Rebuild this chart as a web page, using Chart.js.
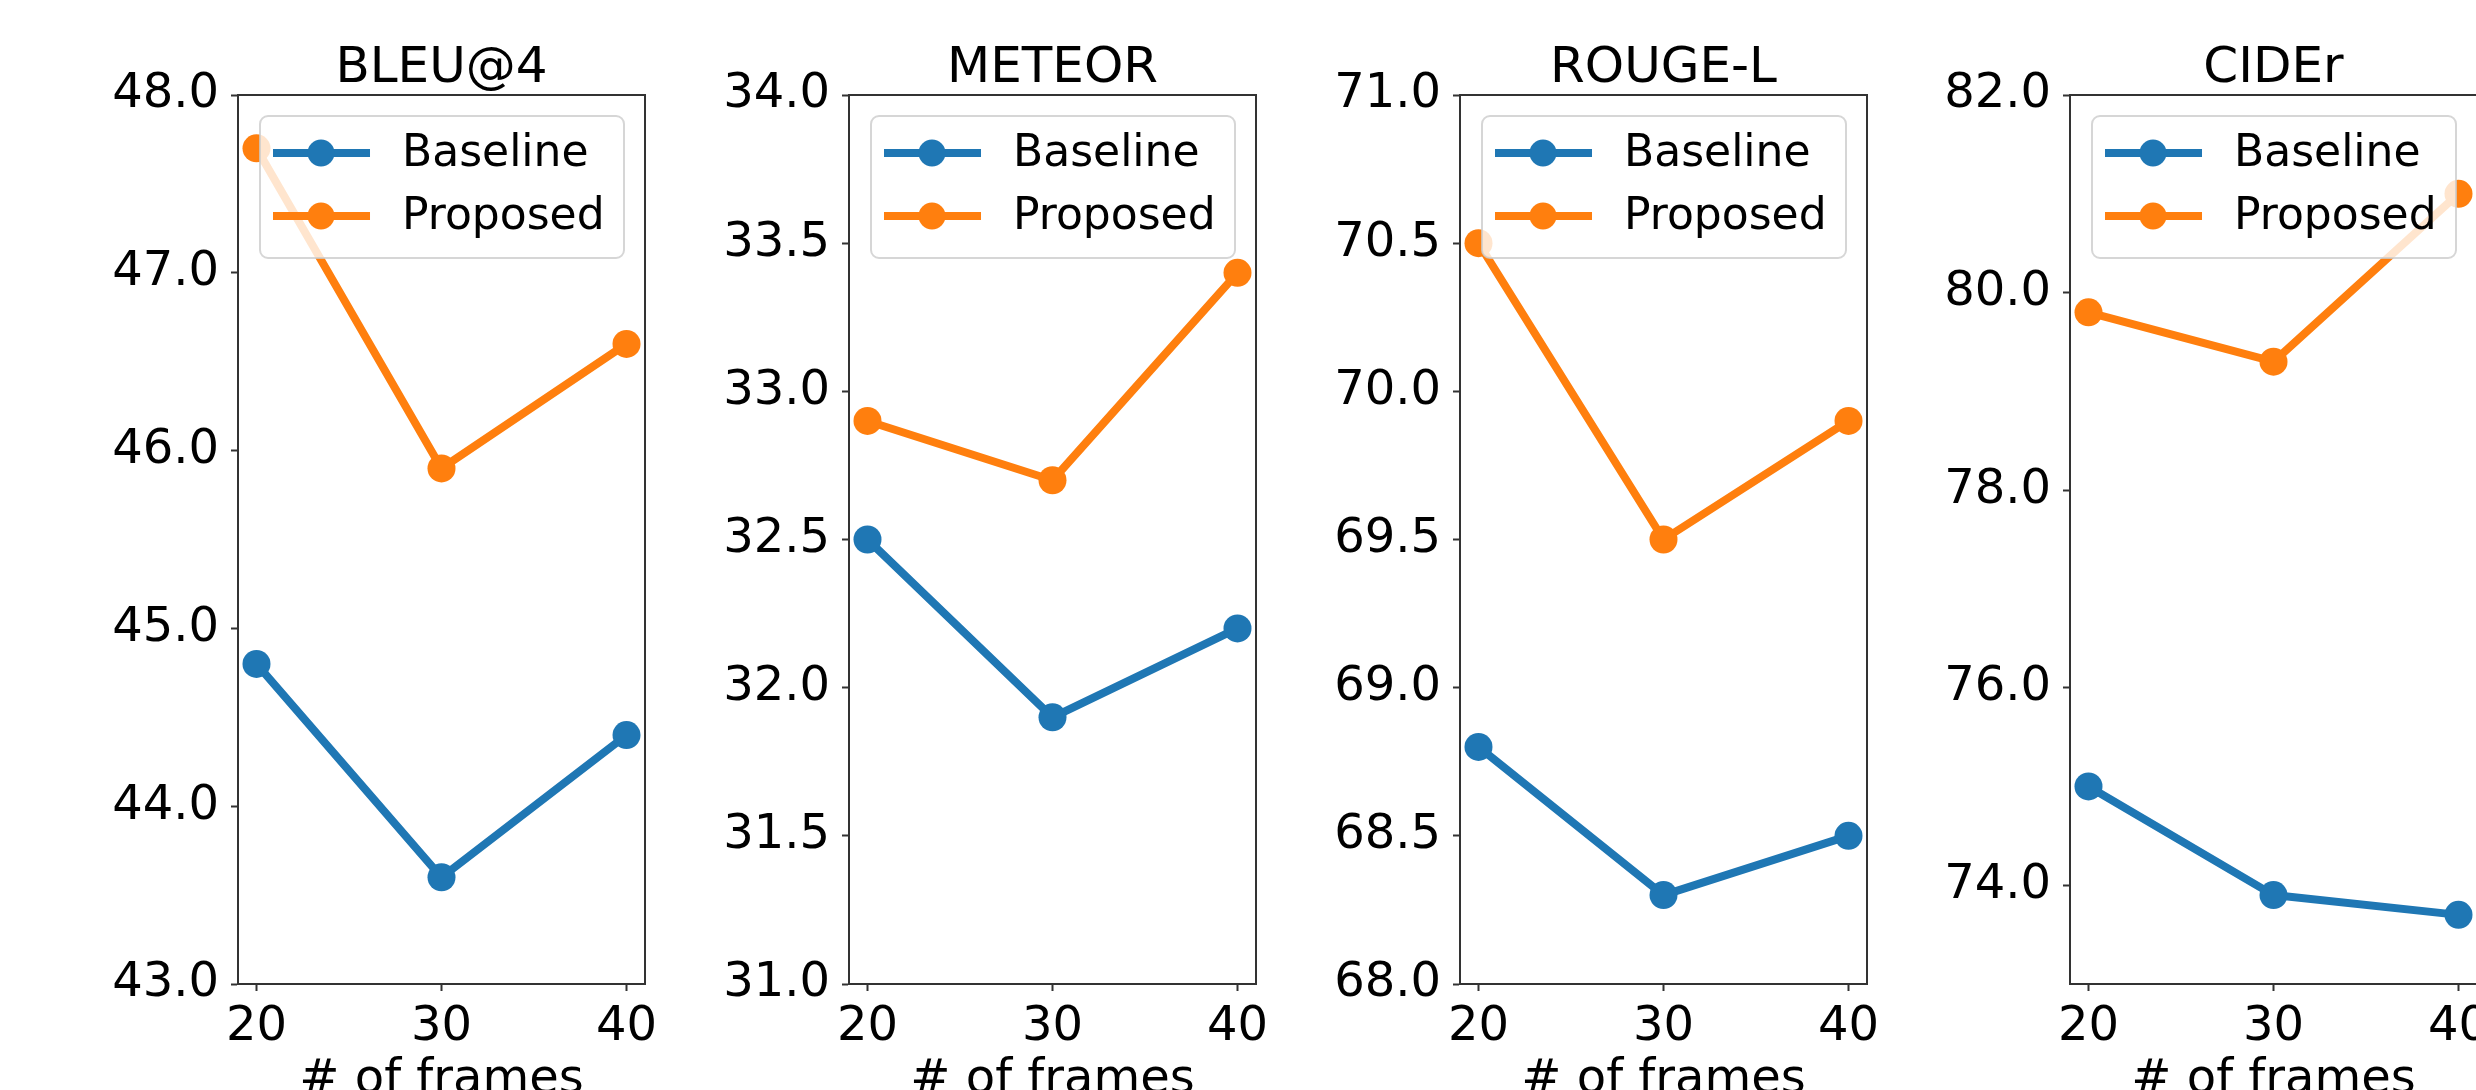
<!DOCTYPE html>
<html>
<head>
<meta charset="utf-8">
<script src="https://cdn.jsdelivr.net/npm/chart.js@4.4.1/dist/chart.umd.min.js"></script>
<style>
html, body { margin:0; padding:0; background:#ffffff; width:2476px; height:1090px; overflow:hidden; position:relative; }
.panel { position:absolute; top:0; width:666px; height:1090px; }
canvas { display:block; }
</style>
</head>
<body>
<div class="panel" style="left:0px"><canvas id="c0" width="666" height="1090"></canvas></div>
<div class="panel" style="left:611px"><canvas id="c1" width="666" height="1090"></canvas></div>
<div class="panel" style="left:1222px"><canvas id="c2" width="666" height="1090"></canvas></div>
<div class="panel" style="left:1832px"><canvas id="c3" width="666" height="1090"></canvas></div>
<script>
// ---- data ----
const frames = [20, 30, 40];
const xTicks = [20, 30, 40];
const xLabel = '# of frames';
const seriesLabels = ['Baseline', 'Proposed'];
const metricTitles = ['BLEU@4', 'METEOR', 'ROUGE-L', 'CIDEr'];

const bleuBaseline   = [44.8, 43.6, 44.4];
const bleuProposed   = [47.7, 45.9, 46.6];
const meteorBaseline = [32.5, 31.9, 32.2];
const meteorProposed = [32.9, 32.7, 33.4];
const rougeBaseline  = [68.8, 68.3, 68.5];
const rougeProposed  = [70.5, 69.5, 69.9];
const ciderBaseline  = [75.0, 73.9, 73.7];
const ciderProposed  = [79.8, 79.3, 81.0];

const bleuTicks   = [43, 44, 45, 46, 47, 48];
const meteorTicks = [31, 31.5, 32, 32.5, 33, 33.5, 34];
const rougeTicks  = [68, 68.5, 69, 69.5, 70, 70.5, 71];
const ciderTicks  = [74, 76, 78, 80, 82];

const yMin = [43, 31, 68, 73];
const yMax = [48, 34, 71, 82];
const xMin = 19;
const xMax = 41;

// ---- style ----
const BLUE = '#1f77b4';
const ORANGE = '#ff7f0e';
const AXIS = '#333333';
const FONT = 'DejaVu Sans';
Chart.defaults.font.family = FONT;

const framePlugin = {
  id: 'frame',
  beforeDatasetsDraw(chart) {
    const { ctx, chartArea: a } = chart;
    ctx.save();
    ctx.strokeStyle = AXIS;
    ctx.lineWidth = 2;
    ctx.strokeRect(a.left, a.top, a.right - a.left, a.bottom - a.top);
    ctx.restore();
  }
};

const boxLegend = {
  id: 'boxLegend',
  afterDatasetsDraw(chart) {
    const { ctx, chartArea: a } = chart;
    const w = 364, h = 142;
    const x = a.right - 21 - w, y = a.top + 21;
    ctx.save();
    ctx.beginPath();
    ctx.roundRect(x, y, w, h, 8);
    ctx.fillStyle = 'rgba(255,255,255,0.8)';
    ctx.fill();
    ctx.strokeStyle = 'rgba(204,204,204,0.8)';
    ctx.lineWidth = 2;
    ctx.stroke();
    chart.data.datasets.forEach((ds, i) => {
      const cy = y + 37 + i * 63;
      ctx.strokeStyle = ds.borderColor;
      ctx.lineWidth = 8;
      ctx.lineCap = 'butt';
      ctx.beginPath();
      ctx.moveTo(x + 13, cy);
      ctx.lineTo(x + 110, cy);
      ctx.stroke();
      ctx.fillStyle = ds.borderColor;
      ctx.beginPath();
      ctx.arc(x + 61, cy, 13.5, 0, Math.PI * 2);
      ctx.fill();
      ctx.fillStyle = '#000000';
      ctx.font = '44px "' + FONT + '"';
      ctx.textBaseline = 'middle';
      ctx.textAlign = 'left';
      ctx.fillText(ds.label, x + 142, cy + 2);
    });
    ctx.restore();
  }
};

function series(label, values, color) {
  return {
    label: label,
    data: frames.map((f, k) => ({ x: f, y: values[k] })),
    borderColor: color,
    backgroundColor: color,
    pointBackgroundColor: color,
    pointBorderColor: color,
    pointBorderWidth: 0,
    pointRadius: 14,
    borderWidth: 8,
    borderJoinStyle: 'round',
    tension: 0,
    fill: false
  };
}

function makeChart(i, base, prop, yTicks) {
  const tickGrid = { drawOnChartArea: false, drawTicks: true, tickLength: 7, tickWidth: 2, tickColor: AXIS };
  return new Chart(document.getElementById('c' + i), {
    type: 'line',
    data: { datasets: [series(seriesLabels[0], base, BLUE), series(seriesLabels[1], prop, ORANGE)] },
    options: {
      responsive: false,
      animation: false,
      devicePixelRatio: 1,
      layout: { padding: { left: 0, right: 20, top: 0, bottom: 0 } },
      plugins: {
        legend: { display: false },
        tooltip: { enabled: false },
        title: {
          display: true,
          fullSize: false,
          text: metricTitles[i],
          color: '#000000',
          font: { family: FONT, size: 50, weight: 'normal', lineHeight: 1.0 },
          padding: { top: 44, bottom: 1 }
        }
      },
      scales: {
        x: {
          type: 'linear',
          min: xMin,
          max: xMax,
          afterBuildTicks: s => { s.ticks = xTicks.map(v => ({ value: v })); },
          afterFit: s => { s.height = 106; },
          grid: tickGrid,
          border: { display: true, color: AXIS, width: 2 },
          ticks: { color: '#000000', font: { family: FONT, size: 48 }, padding: 8, maxRotation: 0, autoSkip: false },
          title: {
            display: true,
            text: xLabel,
            color: '#000000',
            font: { family: FONT, size: 48, lineHeight: 1.2 },
            padding: { top: 0, bottom: -19 }
          }
        },
        y: {
          type: 'linear',
          min: yMin[i],
          max: yMax[i],
          afterBuildTicks: s => { s.ticks = yTicks.map(v => ({ value: v })); },
          afterFit: s => { s.width = 238; },
          grid: tickGrid,
          border: { display: true, color: AXIS, width: 2 },
          ticks: { color: '#000000', font: { family: FONT, size: 48 }, padding: 12, callback: v => Number(v).toFixed(1) }
        }
      }
    },
    plugins: [framePlugin, boxLegend]
  });
}

makeChart(0, bleuBaseline, bleuProposed, bleuTicks);
makeChart(1, meteorBaseline, meteorProposed, meteorTicks);
makeChart(2, rougeBaseline, rougeProposed, rougeTicks);
makeChart(3, ciderBaseline, ciderProposed, ciderTicks);
</script>
</body>
</html>
